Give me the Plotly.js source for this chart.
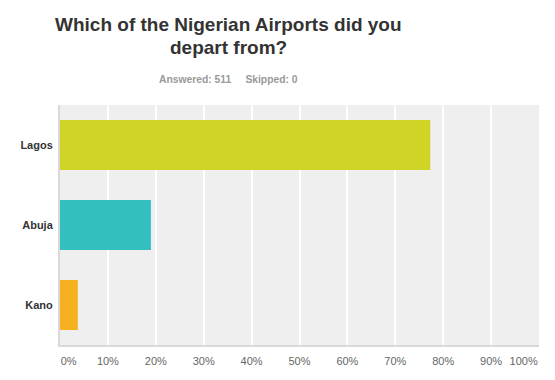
<!DOCTYPE html>
<html>
<head>
<meta charset="utf-8">
<script src="https://cdn.plot.ly/plotly-3.0.1.min.js"></script>
<style>html,body{margin:0;padding:0;background:#fff;}#chart{width:555px;height:380px;}</style>
</head>
<body>
<div id="chart"></div>
<script>
const categories = ["Lagos", "Abuja", "Kano"];
const percents = [77.30, 18.98, 3.72];
const barColors = ["#d0d427", "#33bec0", "#f7b120"];
const gridVals = [0, 10, 20, 30, 40, 50, 60, 70, 80, 90, 100];
const tickLabels = ["0%", "10%", "20%", "30%", "40%", "50%", "60%", "70%", "80%", "90%", "100%"];
const titleLines = ["Which of the Nigerian Airports did you", "depart from?"];
const subtitle = "Answered: 511&nbsp;&nbsp;&nbsp;&nbsp;&nbsp;Skipped: 0";

// label positions: end labels sit inside the plot edges, as in the reference
const labelVals = gridVals.map((v, i) => i === 0 ? 1.8 : (i === gridVals.length - 1 ? 96.8 : v));

const trace = {
  type: "bar",
  orientation: "h",
  y: categories,
  x: percents,
  marker: {color: barColors},
  width: 0.625,
  hoverinfo: "none"
};

const labelTrace = {
  type: "scatter",
  mode: "markers",
  x: [0],
  y: [categories[0]],
  xaxis: "x2",
  marker: {opacity: 0},
  hoverinfo: "none"
};

const layout = {
  width: 555,
  height: 380,
  margin: {l: 60, r: 16, t: 105, b: 35},
  paper_bgcolor: "#ffffff",
  plot_bgcolor: "#efefef",
  showlegend: false,
  font: {family: "Liberation Sans, Arial, sans-serif"},
  xaxis: {
    range: [0, 100],
    tickvals: gridVals,
    showticklabels: false,
    showgrid: true,
    gridcolor: "#ffffff",
    gridwidth: 2,
    zeroline: false,
    showline: true,
    linecolor: "#d9d9d9",
    linewidth: 2,
    ticks: "",
    fixedrange: true
  },
  xaxis2: {
    overlaying: "x",
    anchor: "y",
    side: "bottom",
    range: [0, 100],
    tickvals: labelVals,
    ticktext: tickLabels,
    showgrid: false,
    zeroline: false,
    showline: false,
    ticks: "",
    ticklabelstandoff: 8,
    tickfont: {size: 11, color: "#666666"},
    fixedrange: true
  },
  yaxis: {
    autorange: "reversed",
    showgrid: false,
    zeroline: false,
    showline: true,
    linecolor: "#d9d9d9",
    linewidth: 2,
    ticks: "",
    ticklabelstandoff: 3,
    tickfont: {size: 11, color: "#333333", weight: "bold"},
    fixedrange: true
  },
  annotations: [
    {text: "<b>" + titleLines[0] + "</b>", xref: "paper", yref: "paper", x: 0.352, y: 1, xanchor: "center", yanchor: "middle",
     yshift: 81, showarrow: false, font: {size: 19, color: "#333333"}},
    {text: "<b>" + titleLines[1] + "</b>", xref: "paper", yref: "paper", x: 0.352, y: 1, xanchor: "center", yanchor: "middle",
     yshift: 58, showarrow: false, font: {size: 19, color: "#333333"}},
    {text: "<b>" + subtitle + "</b>", xref: "paper", yref: "paper", x: 0.352, y: 1, xanchor: "center", yanchor: "middle",
     yshift: 26, showarrow: false, font: {size: 10.3, color: "#999999"}}
  ]
};

Plotly.newPlot("chart", [trace, labelTrace], layout, {displayModeBar: false, staticPlot: true});
</script>
</body>
</html>
